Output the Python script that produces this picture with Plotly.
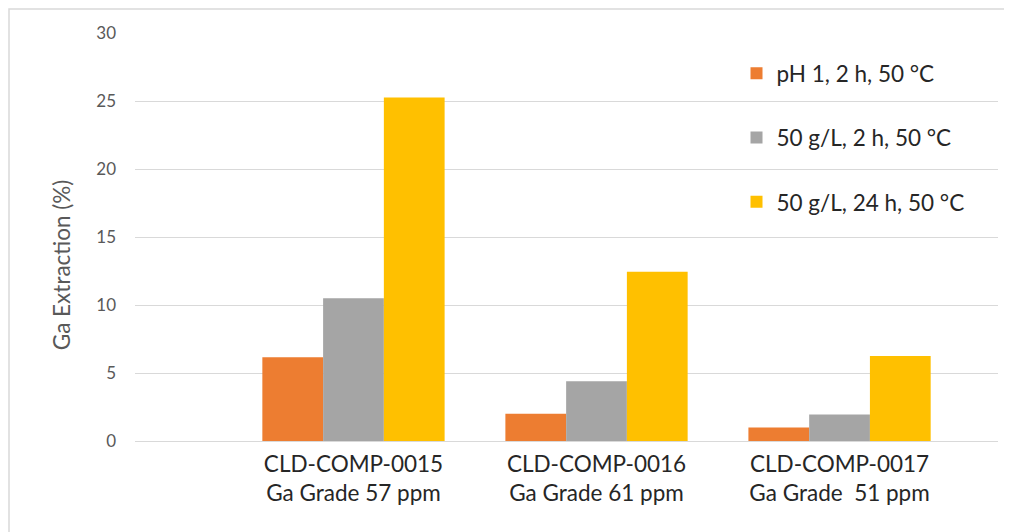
import plotly.graph_objects as go

categories = ["CLD-COMP-0015<br>Ga Grade 57 ppm",
              "CLD-COMP-0016<br>Ga Grade 61 ppm",
              "CLD-COMP-0017<br>Ga Grade  51 ppm"]
series_names = ["pH 1, 2 h, 50 °C", "50 g/L, 2 h, 50 °C", "50 g/L, 24 h, 50 °C"]
ph1_2h = [6.15, 2.0, 1.0]
gl50_2h = [10.5, 4.4, 1.95]
gl50_24h = [25.25, 12.45, 6.25]
series_values = [ph1_2h, gl50_2h, gl50_24h]
colors = ["#ED7D31", "#A5A5A5", "#FFC000"]
y_ticks = [0, 5, 10, 15, 20, 25, 30]
y_title = "Ga Extraction (%)"

FONT = "Lato"

fig = go.Figure()
for name, vals, col in zip(series_names, series_values, colors):
    fig.add_trace(go.Bar(x=categories, y=vals, name=name, legendgroup=name,
                         marker=dict(color=col, line=dict(width=0))))

fig.update_layout(
    width=1004, height=524,
    margin=dict(l=127, r=14, t=25, b=91),
    paper_bgcolor="white", plot_bgcolor="white",
    barmode="group", bargap=0.25, bargroupgap=0,
    font=dict(family=FONT, color="#262626"),
    showlegend=True,
    legend=dict(x=0.697, y=0.953, xanchor="left", yanchor="top",
                bgcolor="rgba(0,0,0,0)", tracegroupgap=32,
                font=dict(size=22.5, color="#262626", family=FONT)),
    xaxis=dict(range=[-0.899, 2.652], showgrid=False, showline=False,
               zeroline=False, ticks="", tickfont=dict(size=22.5, color="#262626"),
               ticklabelstandoff=7),
    yaxis=dict(range=[0, 30], tickvals=y_ticks, showgrid=True,
               gridcolor="#D9D9D9", gridwidth=1.3, zeroline=True,
               zerolinecolor="#D9D9D9", zerolinewidth=1.3, showline=False,
               ticks="", tickfont=dict(size=17, color="#595959"),
               ticklabelstandoff=18),
    annotations=[dict(text=y_title, xref="paper", yref="paper",
                      x=-0.0857, y=0.431, xanchor="center", yanchor="middle",
                      textangle=-90, showarrow=False,
                      font=dict(size=22.5, color="#595959", family=FONT))],
    shapes=[dict(type="rect", xref="paper", yref="paper",
                 x0=-0.146, y0=-0.4, x1=1.2, y1=1.0588,
                 line=dict(color="#D9D9D9", width=1.5), layer="below")],
)

fig.write_html("out.html")
